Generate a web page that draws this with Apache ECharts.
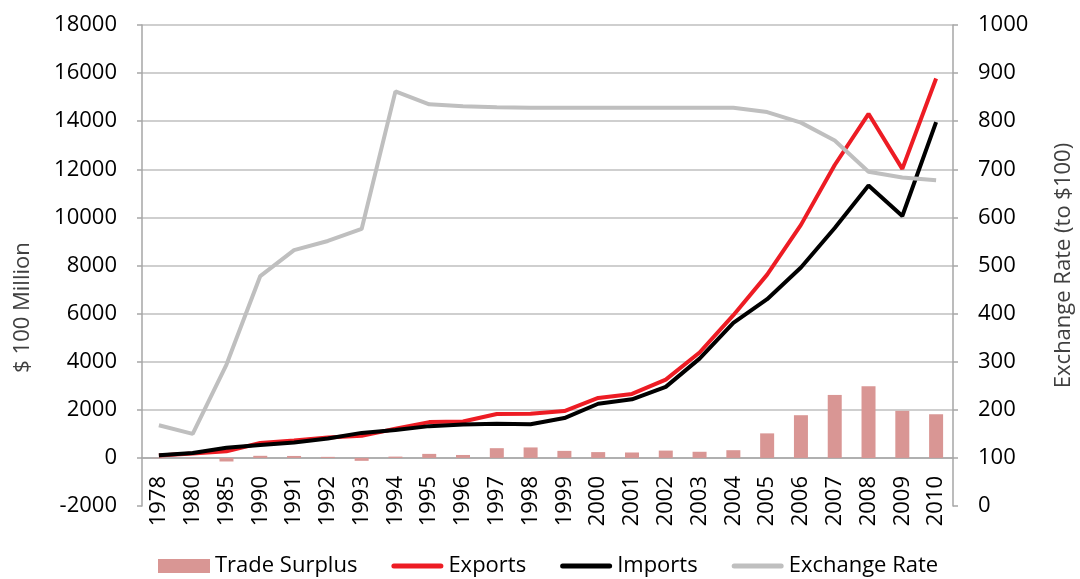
<!DOCTYPE html>
<html>
<head>
<meta charset="utf-8">
<script src="https://cdn.jsdelivr.net/npm/echarts@6/dist/echarts.min.js"></script>
<style>
	html, body { margin: 0; padding: 0; background: #fff; }
	#trade_chart { width: 1080px; height: 579px; }
</style>
</head>
<body>
<div id="trade_chart"></div>
<script>
/** 进出口与汇率 */
let years = ["1978", "1980", "1985", "1990", "1991", "1992", "1993", "1994", "1995", "1996", "1997", "1998",
	"1999", "2000", "2001", "2002", "2003", "2004", "2005", "2006", "2007", "2008", "2009", "2010"];
let exports_val = [98, 181, 274, 621, 719, 849, 917, 1210, 1488, 1511, 1828, 1837,
	1949, 2492, 2661, 3256, 4382, 5933, 7620, 9689, 12178, 14307, 12016, 15778];
let imports_val = [109, 200, 423, 534, 638, 806, 1040, 1156, 1321, 1388, 1424, 1402,
	1657, 2251, 2436, 2952, 4128, 5614, 6600, 7915, 9561, 11326, 10059, 13962];
let surplus_val = [-11, -19, -149, 87, 81, 43, -122, 54, 167, 122, 404, 435,
	292, 241, 225, 304, 255, 320, 1020, 1775, 2618, 2981, 1957, 1815];
let rate_val = [168, 150, 294, 478, 532, 551, 576, 862, 835, 831, 829, 828,
	828, 828, 828, 828, 828, 828, 819, 797, 760, 695, 683, 677];

let font = "Open Sans";
let axisGray = "#a6a6a6";
// 图例里的粗线图标
let lineIcon = "path://M2.5,0 L49.5,0 A2.5,2.5 0 0 1 49.5,5 L2.5,5 A2.5,2.5 0 0 1 2.5,0 Z";
let plainNum = function (v) {
	return String(v);
};

let trade_chart = echarts.init(document.getElementById("trade_chart"));
let trade_option = {
	animation: false,
	textStyle: { fontFamily: font },
	grid: {
		left: 142,
		right: 127,
		top: 25,
		bottom: 73,
		outerBoundsMode: "none",
	},
	legend: {
		left: 153,
		top: 549,
		itemWidth: 52,
		itemHeight: 14,
		itemGap: 34,
		textStyle: { fontSize: 22, lineHeight: 24, color: "#000", fontFamily: font },
		data: [
			{ name: "Trade Surplus", icon: "rect" },
			{ name: "Exports", icon: lineIcon },
			{ name: "Imports", icon: lineIcon },
			{ name: "Exchange Rate", icon: lineIcon },
		],
	},
	xAxis: {
		type: "category",
		data: years,
		position: "bottom",
		offset: -48, // 类目轴放在 0 刻度处
		axisLine: {
			onZero: false,
			lineStyle: { color: axisGray, width: 1.5 },
		},
		axisTick: { show: false },
		axisLabel: {
			interval: 0,
			rotate: 90,
			margin: 18,
			fontSize: 22,
			color: "#000",
		},
	},
	yAxis: [
		{
			type: "value",
			min: -2000,
			max: 18000,
			interval: 2000,
			name: "$ 100 Million",
			nameLocation: "middle",
			nameRotate: 90,
			nameGap: 108,
			nameTextStyle: { fontSize: 22, color: "#404040", padding: [0, 84, 0, 0] },
			axisLine: { show: true, lineStyle: { color: axisGray, width: 1.5 } },
			axisTick: { show: true, length: 5, lineStyle: { color: axisGray, width: 1.5 } },
			axisLabel: { fontSize: 22, color: "#000", margin: 25, formatter: plainNum },
			splitLine: {
				show: true,
				showMinLine: false,
				lineStyle: { color: "#bfbfbf", width: 1.5 },
			},
		},
		{
			type: "value",
			min: 0,
			max: 1000,
			interval: 100,
			name: "Exchange Rate (to $100)",
			nameLocation: "middle",
			nameRotate: 90,
			nameGap: 100,
			nameTextStyle: { fontSize: 22, color: "#404040" },
			axisLine: { show: true, lineStyle: { color: axisGray, width: 1.5 } },
			axisTick: { show: true, length: 5, lineStyle: { color: axisGray, width: 1.5 } },
			axisLabel: { fontSize: 22, color: "#000", margin: 25, formatter: plainNum },
			splitLine: { show: false },
		},
	],
	series: [
		{
			name: "Trade Surplus",
			type: "bar",
			barWidth: 14,
			itemStyle: { color: "#d99694" },
			data: surplus_val,
			z: 1,
		},
		{
			name: "Exports",
			type: "line",
			symbol: "none",
			lineStyle: { color: "#ed1c24", width: 4 },
			itemStyle: { color: "#ed1c24" },
			data: exports_val,
			z: 2,
		},
		{
			name: "Imports",
			type: "line",
			symbol: "none",
			lineStyle: { color: "#000", width: 4 },
			itemStyle: { color: "#000" },
			data: imports_val,
			z: 3,
		},
		{
			name: "Exchange Rate",
			type: "line",
			yAxisIndex: 1,
			symbol: "none",
			lineStyle: { color: "#bfbfbf", width: 4 },
			itemStyle: { color: "#bfbfbf" },
			data: rate_val,
			z: 4,
		},
	],
};
trade_chart.setOption(trade_option);
</script>
</body>
</html>
